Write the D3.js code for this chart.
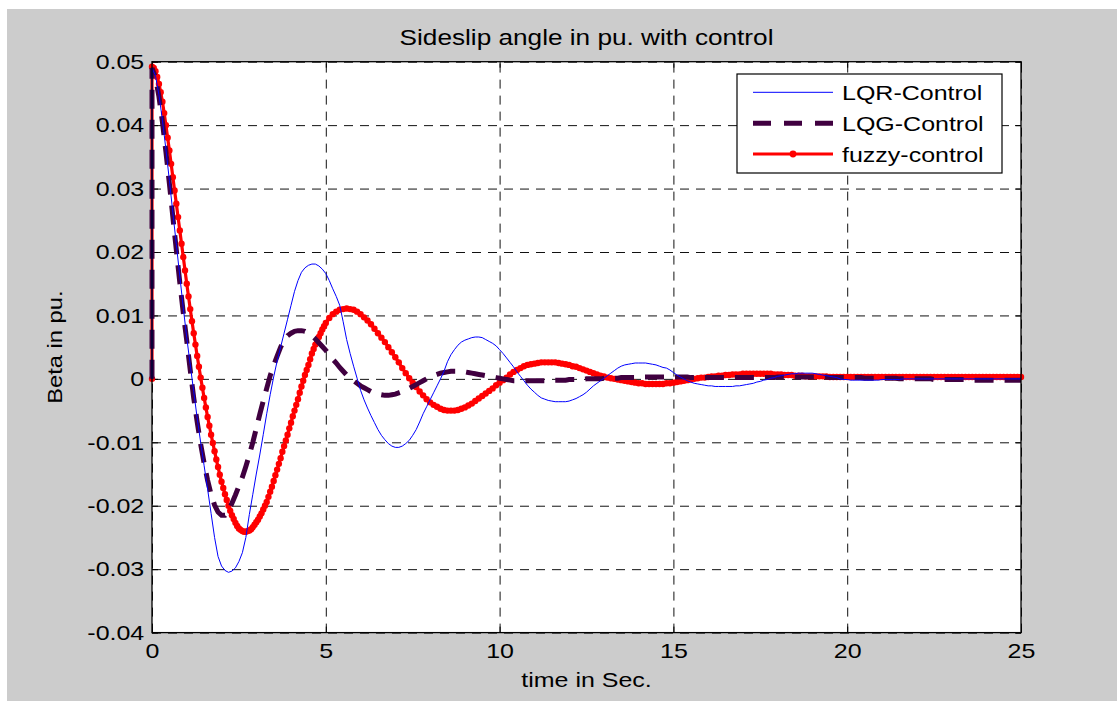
<!DOCTYPE html>
<html>
<head>
<meta charset="utf-8">
<script src="https://cdn.jsdelivr.net/npm/d3@7"></script>
<style>
  body { margin: 0; background: #fff; }
  svg { display: block; }
  text { font-family: "Liberation Sans", Arial, Helvetica, sans-serif; fill: #000; }
</style>
</head>
<body>
<svg id="chart" width="1117" height="701"></svg>
<script>
// ---------------- data ----------------
const chartTitle = "Sideslip angle in pu. with control";
const xLabel = "time in Sec.";
const yLabel = "Beta in pu.";
const xTicks = [0, 5, 10, 15, 20, 25];
const xTickLabels = ["0", "5", "10", "15", "20", "25"];
const yTicks = [-0.04, -0.03, -0.02, -0.01, 0, 0.01, 0.02, 0.03, 0.04, 0.05];
const yTickLabels = ["-0.04", "-0.03", "-0.02", "-0.01", "0", "0.01", "0.02", "0.03", "0.04", "0.05"];
const seriesNames = ["LQR-Control", "LQG-Control", "fuzzy-control"];

// value of every series just before the step at t = 0
const initialValue = 0;

// LQR-Control, t = 0 .. 25 s, step 0.1 s
const lqrStep = 0.1;
const lqr = [
  0.0490, 0.0478, 0.0448, 0.0408, 0.0362, 0.0313, 0.0262, 0.0212, 0.0162, 0.0112,
  0.0065, 0.0022, -0.0020, -0.0062, -0.0100, -0.0137, -0.0174, -0.0212, -0.0250, -0.0280,
  -0.0295, -0.0302, -0.0305, -0.0303, -0.0298, -0.0288, -0.0274, -0.0250, -0.0214, -0.0182,
  -0.0150, -0.0120, -0.0088, -0.0055, -0.0025, 0.0003, 0.0028, 0.0050, 0.0072, 0.0094,
  0.0116, 0.0138, 0.0155, 0.0168, 0.0175, 0.0179, 0.0181, 0.0181, 0.0178, 0.0173,
  0.0166, 0.0155, 0.0142, 0.0130, 0.0116, 0.0090, 0.0062, 0.0040, 0.0020, 0.0001,
  -0.0018, -0.0033, -0.0046, -0.0058, -0.0069, -0.0080, -0.0089, -0.0096, -0.0102, -0.0106,
  -0.0108, -0.0108, -0.0106, -0.0102, -0.0097, -0.0089, -0.0080, -0.0068, -0.0055, -0.0044,
  -0.0033, -0.0022, -0.0011, 0.0000, 0.0012, 0.0027, 0.0038, 0.0046, 0.0053, 0.0058,
  0.0061, 0.0063, 0.0065, 0.0066, 0.0066, 0.0065, 0.0062, 0.0059, 0.0056, 0.0052,
  0.0046, 0.0040, 0.0033, 0.0026, 0.0019, 0.0011, 0.0004, -0.0003, -0.0010, -0.0016,
  -0.0021, -0.0026, -0.0030, -0.0032, -0.0034, -0.0035, -0.0036, -0.0036, -0.0036, -0.0036,
  -0.0035, -0.0033, -0.0031, -0.0028, -0.0025, -0.0021, -0.0016, -0.0011, -0.0007, -0.0003,
  0.0001, 0.0005, 0.0009, 0.0013, 0.0017, 0.0020, 0.0022, 0.0023, 0.0024, 0.0025,
  0.0025, 0.0025, 0.0025, 0.0024, 0.0023, 0.0022, 0.0020, 0.0018, 0.0017, 0.0014,
  0.0010, 0.0006, 0.0003, 0.0000, -0.0003, -0.0005, -0.0007, -0.0008, -0.0009, -0.0010,
  -0.0011, -0.0011, -0.0012, -0.0012, -0.0012, -0.0012, -0.0012, -0.0012, -0.0011, -0.0011,
  -0.0010, -0.0009, -0.0008, -0.0007, -0.0005, -0.0004, -0.0002, -0.0001, 0.0001, 0.0002,
  0.0004, 0.0005, 0.0006, 0.0007, 0.0008, 0.0008, 0.0009, 0.0009, 0.0009, 0.0009,
  0.0009, 0.0008, 0.0007, 0.0006, 0.0005, 0.0004, 0.0003, 0.0002, 0.0000, -0.0001,
  -0.0001, -0.0002, -0.0002, -0.0002, -0.0002, -0.0002, -0.0002, -0.0002, -0.0002, -0.0002,
  -0.0001, -0.0001, -0.0001, -0.0001, -0.0001, -0.0001, 0.0000, 0.0000, 0.0000, 0.0000,
  0.0000, 0.0000, 0.0000, 0.0000, 0.0000, 0.0000, 0.0000, 0.0000, 0.0000, 0.0000,
  0.0000, 0.0000, 0.0000, 0.0000, 0.0000, 0.0000, 0.0000, 0.0000, 0.0000, 0.0000,
  0.0000, 0.0000, 0.0000, 0.0000, 0.0000, 0.0000, 0.0000, 0.0000, 0.0000, 0.0000,
  0.0000
];

// LQG-Control, t = 0 .. 25 s, step 0.1 s
const lqgStep = 0.1;
const lqg = [
  0.0490, 0.0475, 0.0445, 0.0405, 0.0358, 0.0308, 0.0255, 0.0203, 0.0152, 0.0104,
  0.0060, 0.0014, -0.0030, -0.0068, -0.0103, -0.0133, -0.0160, -0.0182, -0.0199, -0.0210,
  -0.0215, -0.0215, -0.0208, -0.0196, -0.0183, -0.0169, -0.0155, -0.0138, -0.0120, -0.0100,
  -0.0078, -0.0056, -0.0035, -0.0015, 0.0005, 0.0021, 0.0036, 0.0050, 0.0061, 0.0068,
  0.0072, 0.0075, 0.0076, 0.0076, 0.0075, 0.0072, 0.0068, 0.0063, 0.0057, 0.0051,
  0.0045, 0.0038, 0.0031, 0.0025, 0.0018, 0.0012, 0.0006, 0.0001, -0.0003, -0.0007,
  -0.0011, -0.0014, -0.0017, -0.0020, -0.0022, -0.0024, -0.0025, -0.0026, -0.0026, -0.0025,
  -0.0024, -0.0022, -0.0020, -0.0018, -0.0015, -0.0012, -0.0009, -0.0006, -0.0003, 0.0000,
  0.0003, 0.0005, 0.0007, 0.0009, 0.0010, 0.0011, 0.0012, 0.0012, 0.0012, 0.0012,
  0.0011, 0.0010, 0.0009, 0.0008, 0.0007, 0.0006, 0.0005, 0.0004, 0.0003, 0.0002,
  0.0001, 0.0000, -0.0001, -0.0002, -0.0003, -0.0003, -0.0003, -0.0003, -0.0003, -0.0003,
  -0.0003, -0.0003, -0.0003, -0.0003, -0.0003, -0.0003, -0.0002, -0.0002, -0.0002, -0.0002,
  -0.0001, -0.0001, -0.0001, -0.0001, -0.0001, 0.0000, 0.0000, 0.0000, 0.0000, 0.0000,
  0.0001, 0.0001, 0.0001, 0.0001, 0.0001, 0.0002, 0.0002, 0.0002, 0.0002, 0.0002,
  0.0003, 0.0003, 0.0003, 0.0003, 0.0003, 0.0003, 0.0003, 0.0003, 0.0003, 0.0003,
  0.0003, 0.0003, 0.0003, 0.0003, 0.0003, 0.0002, 0.0002, 0.0002, 0.0002, 0.0002,
  0.0002, 0.0002, 0.0002, 0.0002, 0.0002, 0.0002, 0.0002, 0.0002, 0.0002, 0.0002,
  0.0002, 0.0002, 0.0002, 0.0002, 0.0002, 0.0002, 0.0002, 0.0002, 0.0002, 0.0002,
  0.0003, 0.0003, 0.0003, 0.0003, 0.0003, 0.0003, 0.0003, 0.0003, 0.0003, 0.0003,
  0.0003, 0.0003, 0.0003, 0.0003, 0.0003, 0.0002, 0.0002, 0.0002, 0.0002, 0.0002,
  0.0002, 0.0002, 0.0002, 0.0002, 0.0002, 0.0001, 0.0001, 0.0001, 0.0001, 0.0001,
  0.0001, 0.0001, 0.0001, 0.0001, 0.0001, 0.0000, 0.0000, 0.0000, 0.0000, 0.0000,
  0.0000, 0.0000, 0.0000, 0.0000, 0.0000, -0.0001, -0.0001, -0.0001, -0.0001, -0.0001,
  -0.0001, -0.0001, -0.0001, -0.0001, -0.0001, -0.0002, -0.0002, -0.0002, -0.0002, -0.0002,
  -0.0002, -0.0002, -0.0002, -0.0002, -0.0002, -0.0002, -0.0002, -0.0002, -0.0002, -0.0002,
  -0.0002
];

// fuzzy-control, fine samples: t = 0 .. 4.95 s, step 0.05 s
const fuzzyFineStep = 0.05;
const fuzzyFine = [
  0.0492, 0.0490, 0.0485, 0.0476, 0.0465, 0.0452, 0.0437, 0.0419, 0.0400, 0.0380,
  0.0360, 0.0339, 0.0318, 0.0297, 0.0276, 0.0255, 0.0234, 0.0213, 0.0192, 0.0171,
  0.0150, 0.0130, 0.0110, 0.0091, 0.0072, 0.0054, 0.0036, 0.0019, 0.0002, -0.0014,
  -0.0030, -0.0045, -0.0060, -0.0074, -0.0088, -0.0101, -0.0114, -0.0127, -0.0139, -0.0151,
  -0.0162, -0.0172, -0.0182, -0.0191, -0.0200, -0.0208, -0.0215, -0.0221, -0.0227, -0.0232,
  -0.0236, -0.0238, -0.0240, -0.0241, -0.0241, -0.0240, -0.0239, -0.0237, -0.0234, -0.0230,
  -0.0226, -0.0222, -0.0217, -0.0212, -0.0206, -0.0200, -0.0194, -0.0186, -0.0178, -0.0170,
  -0.0161, -0.0152, -0.0143, -0.0134, -0.0125, -0.0115, -0.0106, -0.0097, -0.0088, -0.0078,
  -0.0069, -0.0059, -0.0050, -0.0041, -0.0032, -0.0022, -0.0012, -0.0003, 0.0006, 0.0014,
  0.0022, 0.0031, 0.0040, 0.0047, 0.0054, 0.0060, 0.0066, 0.0072, 0.0078, 0.0083
];

// fuzzy-control, coarse samples: t = 5 .. 25 s, step 0.1 s
const fuzzyCoarseStart = 5;
const fuzzyCoarseStep = 0.1;
const fuzzyCoarse = [
  0.0088, 0.0096, 0.0102, 0.0106, 0.0109, 0.0110, 0.0111, 0.0110, 0.0109, 0.0106,
  0.0102, 0.0097, 0.0092, 0.0086, 0.0079, 0.0072, 0.0065, 0.0058, 0.0050, 0.0042,
  0.0034, 0.0026, 0.0017, 0.0009, 0.0001, -0.0006, -0.0013, -0.0020, -0.0026, -0.0032,
  -0.0037, -0.0041, -0.0044, -0.0047, -0.0049, -0.0050, -0.0050, -0.0050, -0.0049, -0.0047,
  -0.0045, -0.0042, -0.0039, -0.0035, -0.0031, -0.0027, -0.0023, -0.0019, -0.0015, -0.0010,
  -0.0006, -0.0002, 0.0002, 0.0007, 0.0011, 0.0014, 0.0017, 0.0020, 0.0022, 0.0023,
  0.0024, 0.0025, 0.0026, 0.0026, 0.0026, 0.0026, 0.0026, 0.0025, 0.0024, 0.0023,
  0.0022, 0.0020, 0.0019, 0.0017, 0.0015, 0.0013, 0.0011, 0.0009, 0.0007, 0.0005,
  0.0004, 0.0002, 0.0001, 0.0000, -0.0001, -0.0002, -0.0003, -0.0004, -0.0005, -0.0006,
  -0.0007, -0.0007, -0.0008, -0.0008, -0.0008, -0.0008, -0.0008, -0.0008, -0.0007, -0.0007,
  -0.0006, -0.0005, -0.0004, -0.0003, -0.0002, -0.0001, 0.0000, 0.0001, 0.0002, 0.0002,
  0.0003, 0.0004, 0.0004, 0.0005, 0.0005, 0.0006, 0.0006, 0.0007, 0.0007, 0.0007,
  0.0008, 0.0008, 0.0008, 0.0008, 0.0008, 0.0008, 0.0008, 0.0008, 0.0008, 0.0007,
  0.0007, 0.0007, 0.0006, 0.0006, 0.0006, 0.0005, 0.0005, 0.0005, 0.0004, 0.0004,
  0.0004, 0.0004, 0.0004, 0.0004, 0.0004, 0.0003, 0.0003, 0.0003, 0.0003, 0.0003,
  0.0003, 0.0003, 0.0003, 0.0003, 0.0003, 0.0003, 0.0003, 0.0003, 0.0003, 0.0003,
  0.0003, 0.0003, 0.0003, 0.0003, 0.0003, 0.0003, 0.0003, 0.0003, 0.0003, 0.0003,
  0.0003, 0.0003, 0.0003, 0.0003, 0.0003, 0.0003, 0.0003, 0.0003, 0.0003, 0.0003,
  0.0003, 0.0003, 0.0003, 0.0003, 0.0003, 0.0003, 0.0003, 0.0003, 0.0003, 0.0003,
  0.0003, 0.0003, 0.0003, 0.0003, 0.0003, 0.0003, 0.0003, 0.0003, 0.0003, 0.0003,
  0.0003
];

// ---------------- build point lists ----------------
const lqrPts = [[0, initialValue]].concat(lqr.map((v, i) => [i * lqrStep, v]));
const lqgPts = [[0, initialValue]].concat(lqg.map((v, i) => [i * lqgStep, v]));
const fuzzyPts = [[0, initialValue]]
  .concat(fuzzyFine.map((v, i) => [i * fuzzyFineStep, v]))
  .concat(fuzzyCoarse.map((v, i) => [fuzzyCoarseStart + i * fuzzyCoarseStep, v]));

// ---------------- layout ----------------
const W = 1117, H = 701;
const L = 152, R = 1021, T = 61.7, B = 632.6;
const SX = 1.19;          // horizontal stretch of the text
const FS = 21;            // font size
const svg = d3.select("#chart");

svg.append("rect").attr("width", W).attr("height", H).attr("fill", "#ffffff");
svg.append("rect").attr("x", 7).attr("y", 9).attr("width", W - 7).attr("height", H - 9).attr("fill", "#cccccc");
svg.append("rect").attr("x", L).attr("y", T).attr("width", R - L).attr("height", B - T).attr("fill", "#ffffff");

const x = d3.scaleLinear().domain([0, 25]).range([L, R]);
const y = d3.scaleLinear().domain([-0.04, 0.05]).range([B, T]);

// grid
const gx = svg.append("g").attr("transform", `translate(0,${B})`)
  .call(d3.axisBottom(x).tickValues(xTicks).tickSize(-(B - T)).tickFormat(""));
gx.select(".domain").remove();
gx.selectAll("line").attr("stroke", "#111").attr("stroke-width", 1).attr("stroke-dasharray", "9,7");

const gy = svg.append("g").attr("transform", `translate(${L},0)`)
  .call(d3.axisLeft(y).tickValues(yTicks).tickSize(-(R - L)).tickFormat(""));
gy.select(".domain").remove();
gy.selectAll("line").attr("stroke", "#111").attr("stroke-width", 1).attr("stroke-dasharray", "9,7");

// inward ticks on all four sides, labels bottom and left
function styleAxis(g) {
  g.select(".domain").remove();
  g.selectAll("line").attr("stroke", "#000").attr("stroke-width", 1);
}
const axB = svg.append("g").attr("transform", `translate(0,${B})`)
  .call(d3.axisBottom(x).tickValues(xTicks).tickSize(-6).tickPadding(10)
    .tickFormat((d, i) => xTickLabels[i]));
styleAxis(axB);
axB.selectAll("text").attr("font-size", FS).attr("font-family", "Liberation Sans, Arial, sans-serif")
  .attr("fill", "#000").attr("transform", `scale(${SX},1)`);

const axL = svg.append("g").attr("transform", `translate(${L},0)`)
  .call(d3.axisLeft(y).tickValues(yTicks).tickSize(-6).tickPadding(6.5)
    .tickFormat((d, i) => yTickLabels[i]));
styleAxis(axL);
axL.selectAll("text").attr("font-size", FS).attr("font-family", "Liberation Sans, Arial, sans-serif")
  .attr("fill", "#000").attr("transform", `scale(${SX},1)`);

const axT = svg.append("g").attr("transform", `translate(0,${T})`)
  .call(d3.axisTop(x).tickValues(xTicks).tickSize(-6).tickFormat(""));
styleAxis(axT);
const axR = svg.append("g").attr("transform", `translate(${R},0)`)
  .call(d3.axisRight(y).tickValues(yTicks).tickSize(-6).tickFormat(""));
styleAxis(axR);

// series
const line = d3.line().x(d => x(d[0])).y(d => y(d[1]));
const plot = svg.append("g");

plot.append("path").datum(fuzzyPts).attr("d", line)
  .attr("fill", "none").attr("stroke", "#ff0000").attr("stroke-width", 3.2)
  .attr("stroke-linejoin", "round");
plot.append("g").selectAll("circle").data(fuzzyPts).join("circle")
  .attr("cx", d => x(d[0])).attr("cy", d => y(d[1])).attr("r", 3.2).attr("fill", "#ff0000");

plot.append("path").datum(lqgPts).attr("d", line)
  .attr("fill", "none").attr("stroke", "#400040").attr("stroke-width", 5)
  .attr("stroke-dasharray", "19,11");

plot.append("path").datum(lqrPts).attr("d", line)
  .attr("fill", "none").attr("stroke", "#0000ff").attr("stroke-width", 1);

// box
svg.append("rect").attr("x", L).attr("y", T).attr("width", R - L).attr("height", B - T)
  .attr("fill", "none").attr("stroke", "#000").attr("stroke-width", 1.3);

// texts
svg.append("text")
  .attr("transform", `translate(${(L + R) / 2},45) scale(${SX},1)`)
  .attr("text-anchor", "middle").attr("font-size", 22).text(chartTitle);
svg.append("text")
  .attr("transform", `translate(${(L + R) / 2},687) scale(${SX},1)`)
  .attr("text-anchor", "middle").attr("font-size", FS).text(xLabel);
svg.append("text")
  .attr("transform", `translate(62,${(T + B) / 2}) rotate(-90) scale(1.13,1)`)
  .attr("text-anchor", "middle").attr("font-size", FS).text(yLabel);

// legend
const lg = svg.append("g");
lg.append("rect").attr("x", 737).attr("y", 74).attr("width", 265).attr("height", 99)
  .attr("fill", "#fff").attr("stroke", "#000").attr("stroke-width", 1.2);
const rowsY = [92.3, 123.3, 154];
const lx1 = 753, lx2 = 833;
lg.append("line").attr("x1", lx1).attr("x2", lx2).attr("y1", rowsY[0]).attr("y2", rowsY[0])
  .attr("stroke", "#0000ff").attr("stroke-width", 1);
lg.append("line").attr("x1", lx1).attr("x2", lx2).attr("y1", rowsY[1]).attr("y2", rowsY[1])
  .attr("stroke", "#400040").attr("stroke-width", 5).attr("stroke-dasharray", "18,13");
lg.append("line").attr("x1", lx1).attr("x2", lx2).attr("y1", rowsY[2]).attr("y2", rowsY[2])
  .attr("stroke", "#ff0000").attr("stroke-width", 3.2);
lg.append("circle").attr("cx", (lx1 + lx2) / 2).attr("cy", rowsY[2]).attr("r", 3.4).attr("fill", "#ff0000");
seriesNames.forEach((n, i) => {
  lg.append("text").attr("transform", `translate(842,${rowsY[i] + 7.5}) scale(${SX},1)`)
    .attr("font-size", FS).text(n);
});
</script>
</body>
</html>
